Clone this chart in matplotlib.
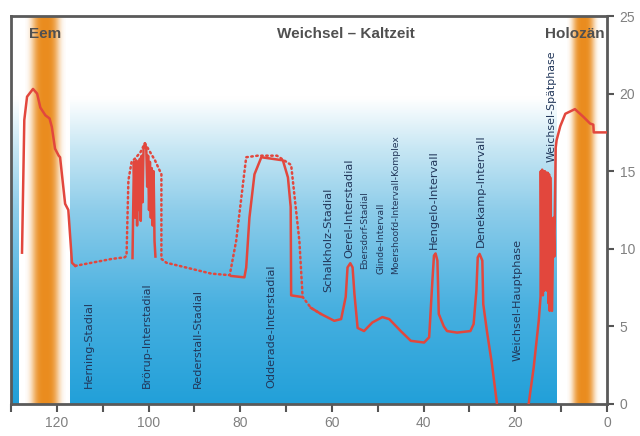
import numpy as np
import matplotlib
matplotlib.use("Agg")
import matplotlib.pyplot as plt
from matplotlib.colors import LinearSegmentedColormap

# --- temperature reconstruction (ka BP, value) ---
eem_age = [127.6, 127.1, 126.5, 125.2, 124.3, 123.6, 122.5, 121.6, 121.1, 120.4,
           119.6, 119.3, 118.2, 117.5, 116.7, 116.0]
eem_val = [9.75, 18.3, 19.8, 20.3, 20.0, 19.1, 18.6, 18.4, 17.85, 16.45,
           16.0, 15.9, 12.9, 12.5, 9.1, 8.9]

broerup_age = [103.5, 103.2, 102.9, 102.7, 102.5, 102.3, 102.1, 101.9, 101.7, 101.5,
               101.3, 101.1, 100.8, 100.5, 100.3, 100.1, 99.9, 99.7, 99.5, 99.3,
               99.1, 98.9, 98.7, 98.5]
broerup_val = [9.4, 15.6, 12.0, 15.7, 11.5, 15.6, 12.5, 15.8, 11.8, 16.0,
               13.0, 16.4, 16.8, 16.5, 14.0, 16.0, 12.5, 15.6, 12.0, 15.2,
               11.5, 15.0, 10.5, 9.5]

odderade_age = [82.0, 79.1, 78.7, 78.0, 76.9, 75.4, 70.7, 69.6, 69.0, 68.9, 66.7]
odderade_val = [8.25, 8.16, 8.8, 12.0, 14.8, 15.9, 15.7, 14.6, 12.7, 7.0, 6.9]

late_age = [64.6, 62.4, 59.5, 58.0, 57.0, 56.6, 56.0, 55.5, 55.1, 54.4,
            53.0, 51.2, 49.0, 47.5, 45.0, 42.8, 39.9, 38.8, 38.1, 37.75,
            37.4, 37.0, 36.7, 35.6, 34.9, 32.7, 29.8, 29.1, 28.5, 28.2,
            27.8, 27.2, 27.0, 26.2, 25.1, 24.0, np.nan, 17.1, 16.0, 14.9,
            14.5, 14.45, 14.3, 14.15, 14.0, 13.85, 13.7, 13.55, 13.4, 13.25,
            13.1, 12.95, 12.8, 12.65, 12.5, 12.4, 12.0, 11.7, 11.5, 11.2,
            11.0, 10.2, 9.1, 7.0, 5.15, 3.7, 3.0, 2.9, 0.0]
late_val = [6.2, 5.8, 5.36, 5.47, 6.9, 8.8, 9.07, 8.8, 7.1, 4.9,
            4.7, 5.25, 5.6, 5.47, 4.7, 4.07, 3.96, 4.3, 7.9, 9.56,
            9.7, 9.24, 5.8, 5.0, 4.7, 4.6, 4.7, 5.15, 7.3, 9.45,
            9.67, 9.24, 6.44, 4.7, 2.56, 0.0, np.nan, 0.0, 2.35, 5.36,
            6.9, 15.0, 7.2, 15.1, 7.0, 15.0, 7.3, 15.0, 9.0, 14.9,
            7.3, 14.9, 6.5, 14.8, 6.0, 14.6, 6.0, 12.0, 9.5, 16.5,
            17.0, 17.9, 18.7, 19.0, 18.5, 18.07, 18.0, 17.5, 17.5]

# uncertain / interpolated course
dotted_age = [116.0, 108.0, 105.2, 104.8, 104.4, 103.7, 103.0, 101.8, 100.8, 99.8,
              98.6, 97.2, 97.2, 96.1, 86.3, 82.3, 80.9, 79.4, 78.7, 76.2,
              72.0, 68.9, 67.1, 66.4, 64.6, 62.4]
dotted_val = [8.9, 9.35, 9.45, 9.56, 14.4, 15.6, 15.8, 16.2, 16.8, 16.3,
              15.7, 14.8, 9.35, 9.1, 8.4, 8.3, 10.5, 14.2, 15.9, 16.0,
              16.0, 15.4, 10.5, 6.9, 6.2, 5.8]

# stage names: label, age, base value, font size
stage_labels = ["Herning-Stadial", "Brörup-Interstadial", "Rederstall-Stadial",
                "Odderade-Interstadial", "Schalkholz-Stadial", "Oerel-Interstadial",
                "Ebersdorf-Stadial", "Glinde-Intervall",
                "Moershoofd-Intervall-Komplex", "Hengelo-Intervall",
                "Denekamp-Intervall", "Weichsel-Hauptphase", "Weichsel-Spätphase"]
stage_age = [113.0, 100.4, 89.3, 73.3, 60.9, 56.3, 52.8, 49.3, 46.1, 37.8, 27.6, 19.6, 12.0]
stage_base = [1.0, 1.0, 1.0, 1.0, 7.2, 9.4, 8.7, 8.4, 8.4, 10.0, 10.1, 2.8, 15.6]
stage_size = [8.1, 8.1, 8.1, 8.1, 8.2, 8.2, 6.5, 6.7, 6.7, 8.2, 8.2, 8.1, 7.9]

period_labels = ["Eem", "Weichsel – Kaltzeit", "Holozän"]
period_age = [122.5, 57.0, 7.0]

x_ticks = [120, 100, 80, 60, 40, 20, 0]
y_ticks = [0, 5, 10, 15, 20, 25]

# warm periods (centre, half width)
warm_centre = [122.6, 5.2]
warm_half = [4.4, 3.5]
# cold-period shading (start, end)
cold_spans = [(130.0, 128.4), (117.2, 11.1)]

RED = "#e2473d"
plt.rcParams["font.family"] = ["DejaVu Sans"]

fig = plt.figure(figsize=(6.4, 4.36), dpi=100)
ax = fig.add_axes([0.0172, 0.0734, 0.9313, 0.8899])

# vertical blue gradient for the cold period
blue_cmap = LinearSegmentedColormap.from_list(
    "cold", [(0.0, "#22a0d9"), (0.25, "#48b0e0"), (0.5, "#8ecdea"),
             (0.66, "#c8e7f4"), (0.79, "#ffffff"), (1.0, "#ffffff")])
grad = np.linspace(0, 1, 256).reshape(-1, 1)
for a0, a1 in cold_spans:
    ax.imshow(grad, cmap=blue_cmap, origin="lower", aspect="auto",
              extent=[a0, a1, 0, 25], zorder=0, interpolation="bicubic")

# warm period bands
for c, hw in zip(warm_centre, warm_half):
    t = np.linspace(-1, 1, 200)
    alpha = np.exp(-(np.abs(t) / 0.66) ** 3.5)
    rgba = np.zeros((1, t.size, 4))
    rgba[..., 0] = 0.92
    rgba[..., 1] = 0.55
    rgba[..., 2] = 0.12
    rgba[..., 3] = alpha
    ax.imshow(rgba, origin="lower", aspect="auto",
              extent=[c + hw, c - hw, 0, 25], zorder=1, interpolation="bicubic")

# curves
kw = dict(color=RED, lw=1.8, solid_joinstyle="round", zorder=3)
ax.plot(dotted_age, dotted_val, color=RED, lw=1.8, ls=(0, (0.6, 1.4)),
        dash_capstyle="round", zorder=3)
ax.plot(eem_age, eem_val, **kw)
ax.plot(broerup_age, broerup_val, **kw)
ax.plot(odderade_age, odderade_val, **kw)
ax.plot(late_age, late_val, **kw)

# stage names
for lab, a, b, fs in zip(stage_labels, stage_age, stage_base, stage_size):
    ax.text(a, b, lab, rotation=90, ha="center", va="bottom", fontsize=fs,
            color="#22375a", zorder=4)

for lab, a in zip(period_labels, period_age):
    ax.text(a, 23.85, lab, ha="center", va="center", fontsize=11,
            fontweight="bold", color="#505050", zorder=4,
            family="Liberation Sans")

ax.set_xlim(130, 0)
ax.set_ylim(0, 25)
ax.set_xticks(x_ticks)
ax.set_xticks(np.arange(0, 131, 10), minor=True)
ax.set_yticks(y_ticks)
ax.yaxis.tick_right()
ax.tick_params(axis="x", which="both", direction="out", length=6, width=1.5,
               color="#555555", labelsize=10, labelcolor="#808080", pad=3)
ax.tick_params(axis="y", direction="out", length=5, width=1.5, color="#555555",
               labelsize=10, labelcolor="#808080", pad=4)
for lbl in ax.get_xticklabels() + ax.get_yticklabels():
    lbl.set_family("Liberation Sans")
for s in ax.spines.values():
    s.set_color("#5a5a5a")
    s.set_linewidth(2)

fig.savefig("out.png", dpi=100)
